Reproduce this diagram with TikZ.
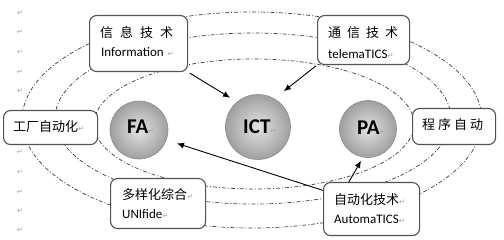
\documentclass[tikz,border=0pt]{standalone}
\usepackage{fontspec}
\setmainfont{Carlito}
\newfontfamily\cjk{Noto Sans CJK SC}
\newfontfamily\dvs{DejaVu Sans}
\usetikzlibrary{arrows.meta}
\newcommand{\retmark}{{\dvs\mdseries\fontsize{7.5}{8}\selectfont\color{gray!70}\symbol{"21B5}}}
\begin{document}
\begin{tikzpicture}[x=1pt,y=-1pt,
  orbit/.style={draw=black!75, line width=0.7pt, dash pattern=on 4pt off 2pt on 1pt off 2pt},
  box/.style={draw=black!68, line width=1.1pt, rounded corners=7pt, fill=white, inner sep=0pt, anchor=north west},
  ball/.style={circle, shading=radial, inner color=gray!22, outer color=gray!75, draw=black!45, line width=0.6pt, inner sep=0pt},
  txt/.style={anchor=base west, inner sep=0pt, font=\fontsize{13}{13}\selectfont},
  lbl/.style={anchor=base west, inner sep=0pt, font=\fontsize{21}{21}\selectfont\bfseries},
  arr/.style={-{Latex[length=7pt,width=6pt]}, line width=0.9pt, draw=black},
  pil/.style={inner sep=0pt, anchor=center}
]
\fill[white] (0,0) rectangle (504,240);
\useasboundingbox (0,0) rectangle (504,240);

% orbits
\draw[orbit] (252,120) ellipse [x radius=230pt, y radius=108pt];
\draw[orbit] (253,118.5) ellipse [x radius=198pt, y radius=85.5pt];
\draw[orbit] (254,124) ellipse [x radius=160pt, y radius=65pt];

% balls
\node[ball, minimum size=58pt] (fa) at (139,130) {};
\node[ball, minimum size=65pt] (ict) at (258,127) {};
\node[ball, minimum size=57pt] (pa) at (368,129) {};

% boxes
\node[box, minimum width=98pt, minimum height=56pt] (info) at (89,15) {};
\node[box, minimum width=92pt, minimum height=49pt] (tel) at (317,15) {};
\node[box, minimum width=94pt, minimum height=34pt] (fab) at (3,110) {};
\node[box, minimum width=83pt, minimum height=36pt] (prog) at (412,108) {};
\node[box, minimum width=95pt, minimum height=50pt] (uni) at (110,178) {};
\node[box, minimum width=96pt, minimum height=53pt] (aut) at (323,182) {};

% arrows
\draw[arr, shorten <=2pt, shorten >=8pt] (info.south east) -- (ict.130);
\draw[arr, shorten <=1pt, shorten >=12pt] (tel.south west) -- (ict.60);
\draw[arr, shorten >=11pt] (aut.159) -- (fa.-20);
\draw[arr, shorten >=4pt] (aut.130) -- (pa.260);

% texts
\node[txt] (t1a) at (100,38) {\cjk 信\hspace{7pt}息\hspace{7pt}技\hspace{7pt}术};
\node[txt] (t1b) at (101,57) {Information\hspace{4pt}\retmark};
\node[txt] (t2a) at (328,38) {\cjk 通\hspace{6pt}信\hspace{6pt}技\hspace{6pt}术};
\node[txt] (t2b) at (328,59) {telemaTICS\retmark};
\node[txt] (t3) at (13,132) {\cjk 工厂自动化\retmark};
\node[txt] (t4) at (422,130) {\cjk 程\hspace{3pt}序\hspace{3pt}自\hspace{3pt}动};
\node[txt] (t5a) at (122,200) {\cjk 多样化综合\retmark};
\node[txt] (t5b) at (122,219) {UNIfide\retmark};
\node[txt] (t6a) at (334,205) {\cjk 自动化技术\retmark};
\node[txt] (t6b) at (334,224) {AutomaTICS\retmark};

% ball labels
\node[lbl] (lfa) at (127,134) {FA\retmark};
\node[lbl] (lict) at (243,134) {ICT\retmark};
\node[lbl] (lpa) at (357,135) {PA\retmark};

% paragraph marks
\foreach \yy [count=\i] in {13,32,52,72,91,152,172,192,211,230}
  \node[pil] (m\i) at (20,\yy) {\retmark};
\end{tikzpicture}
\end{document}
